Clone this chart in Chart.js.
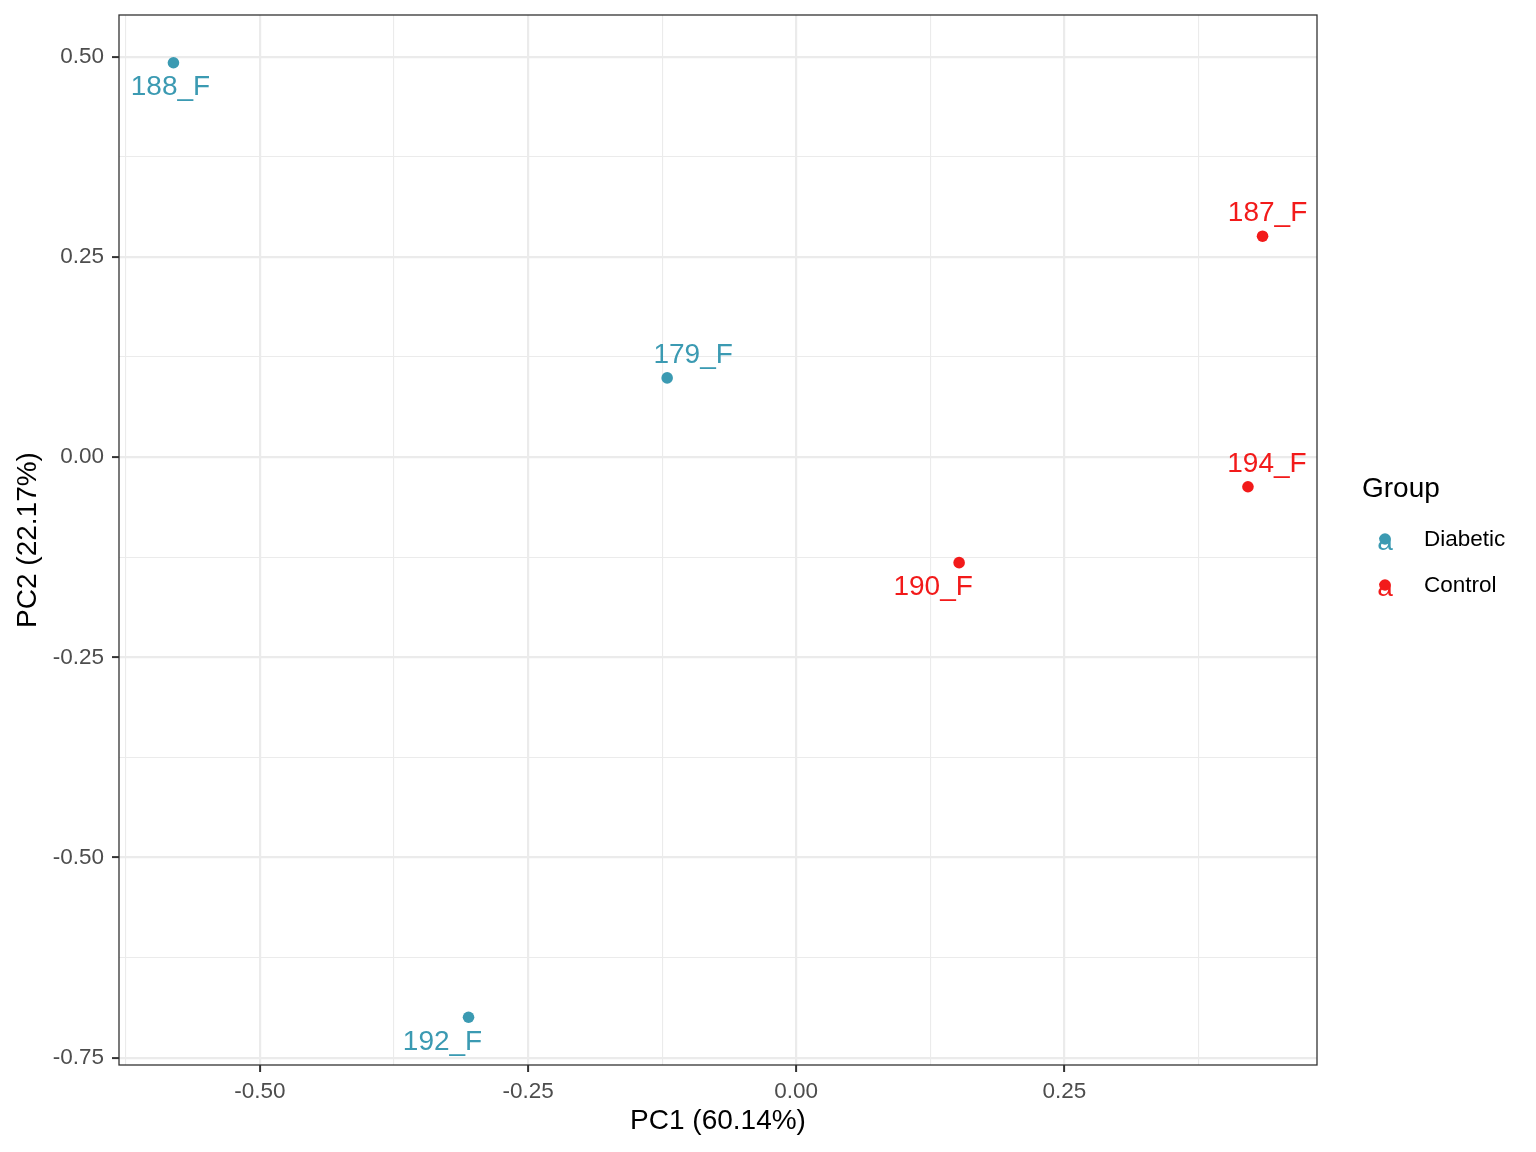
<!DOCTYPE html>
<html>
<head>
<meta charset="utf-8">
<script src="https://cdn.jsdelivr.net/npm/chart.js@4.4.1/dist/chart.umd.min.js"></script>
<style>
  html, body { margin: 0; padding: 0; background: #fff; }
  #wrap { width: 1536px; height: 1152px; }
</style>
</head>
<body>
<div id="wrap"><canvas id="pca" width="1536" height="1152"></canvas></div>
<script>
// --- data ---
const sampleIds = ["179_F", "188_F", "192_F", "187_F", "190_F", "194_F"];
const sampleGroup = ["Diabetic", "Diabetic", "Diabetic", "Control", "Control", "Control"];
const pc1 = [-0.1203, -0.5806, -0.3055, 0.4348, 0.1519, 0.4212];
const pc2 = [0.0989, 0.4925, -0.6995, 0.2759, -0.1318, -0.0370];
const groupOrder = ["Diabetic", "Control"];
const xTitle = "PC1 (60.14%)";
const yTitle = "PC2 (22.17%)";

// --- look ---
const groupColors = { Diabetic: "#3B9AB2", Control: "#F21A1A" };
const FONT = "'Liberation Sans', Arial, Helvetica, sans-serif";
const gridCol = "#EBEBEB";
const ptRadius = 5.8;
// where each label sits relative to its point (px), like ggrepel put them
const labelNudge = {
  "179_F": [26, -23], "188_F": [-3, 25], "192_F": [-26, 25],
  "187_F": [5, -23], "190_F": [-26, 25], "194_F": [19, -22]
};

// ggplot style 5% expansion
function expand(vals) {
  const lo = Math.min(...vals), hi = Math.max(...vals);
  const pad = (hi - lo) * 0.05;
  return [lo - pad, hi + pad];
}
const [xMin, xMax] = expand(pc1);
const [yMin, yMax] = expand(pc2);

const isMajor = v => Math.abs(v * 4 - Math.round(v * 4)) < 1e-6;

const datasets = groupOrder.map(g => {
  const pts = [];
  sampleIds.forEach((id, i) => {
    if (sampleGroup[i] === g) pts.push({ x: pc1[i], y: pc2[i], id: id });
  });
  return {
    label: g,
    data: pts,
    backgroundColor: groupColors[g],
    borderWidth: 0,
    pointRadius: ptRadius,
    pointHoverRadius: ptRadius
  };
});

function axisGrid() {
  return {
    color: gridCol,
    lineWidth: c => (c.tick && isMajor(c.tick.value) ? 2.2 : 1.1),
    tickColor: c => (c.tick && isMajor(c.tick.value) ? "#333333" : "rgba(0,0,0,0)"),
    tickWidth: 2,
    tickLength: 7,
    drawTicks: true
  };
}

// panel border + sample labels + legend
const labelsPlugin = {
  id: "sampleLabels",
  afterDatasetsDraw(chart) {
    const ctx = chart.ctx;
    ctx.save();
    ctx.font = "28px " + FONT;
    ctx.textAlign = "center";
    ctx.textBaseline = "middle";
    chart.data.datasets.forEach((ds, di) => {
      const meta = chart.getDatasetMeta(di);
      meta.data.forEach((el, i) => {
        const id = ds.data[i].id;
        const nd = labelNudge[id] || [0, 0];
        ctx.fillStyle = ds.backgroundColor;
        ctx.fillText(id, el.x + nd[0], el.y + nd[1]);
      });
    });
    ctx.restore();
  },
  afterDraw(chart) {
    const { left, right, top, bottom } = chart.chartArea;
    const ctx = chart.ctx;
    ctx.save();
    ctx.strokeStyle = "#333333";
    ctx.lineWidth = 1.3;
    ctx.strokeRect(left, top, right - left, bottom - top);

    // legend, drawn like ggplot's guide (text key "a" with the point on it)
    ctx.fillStyle = "#000";
    ctx.font = "28px " + FONT;
    ctx.textAlign = "left";
    ctx.textBaseline = "middle";
    ctx.fillText("Group", 1362, 489);
    chart.data.datasets.forEach((ds, i) => {
      const cy = 540 + i * 46;
      ctx.fillStyle = ds.backgroundColor;
      ctx.font = "28px " + FONT;
      ctx.textAlign = "center";
      ctx.textBaseline = "alphabetic";
      ctx.fillText("a", 1385, cy + 10);
      ctx.beginPath();
      ctx.arc(1385, cy - 1, ptRadius, 0, Math.PI * 2);
      ctx.fill();
      ctx.fillStyle = "#000";
      ctx.font = "22.5px " + FONT;
      ctx.textAlign = "left";
      ctx.textBaseline = "middle";
      ctx.fillText(ds.label, 1424, cy);
    });
    ctx.restore();
  }
};

new Chart(document.getElementById("pca").getContext("2d"), {
  type: "scatter",
  data: { datasets: datasets },
  options: {
    responsive: false,
    animation: false,
    events: [],
    layout: { padding: { left: 0, right: 219, top: 15, bottom: 0 } },
    plugins: {
      legend: { display: false },
      tooltip: { enabled: false },
      title: { display: false }
    },
    scales: {
      x: {
        type: "linear",
        min: xMin,
        max: xMax,
        afterFit: s => { s.height = 87; s.paddingLeft = 0; s.paddingRight = 0; },
        ticks: {
          stepSize: 0.125,
          includeBounds: false,
          autoSkip: false,
          maxRotation: 0,
          color: "#4D4D4D",
          font: { family: FONT, size: 22.5 },
          padding: 6,
          callback: v => (isMajor(v) ? v.toFixed(2) : "")
        },
        grid: axisGrid(),
        border: { display: false },
        title: {
          display: true,
          text: xTitle,
          color: "#000",
          font: { family: FONT, size: 28 },
          padding: { top: 0, bottom: 14 }
        }
      },
      y: {
        type: "linear",
        min: yMin,
        max: yMax,
        afterFit: s => { s.width = 119; s.paddingTop = 0; s.paddingBottom = 0; },
        ticks: {
          stepSize: 0.125,
          includeBounds: false,
          autoSkip: false,
          color: "#4D4D4D",
          font: { family: FONT, size: 22.5 },
          padding: 8,
          callback: v => (isMajor(v) ? v.toFixed(2) : "")
        },
        grid: axisGrid(),
        border: { display: false },
        title: {
          display: true,
          text: yTitle,
          color: "#000",
          font: { family: FONT, size: 28 },
          padding: { top: 11, bottom: 0 }
        }
      }
    }
  },
  plugins: [labelsPlugin]
});
</script>
</body>
</html>
